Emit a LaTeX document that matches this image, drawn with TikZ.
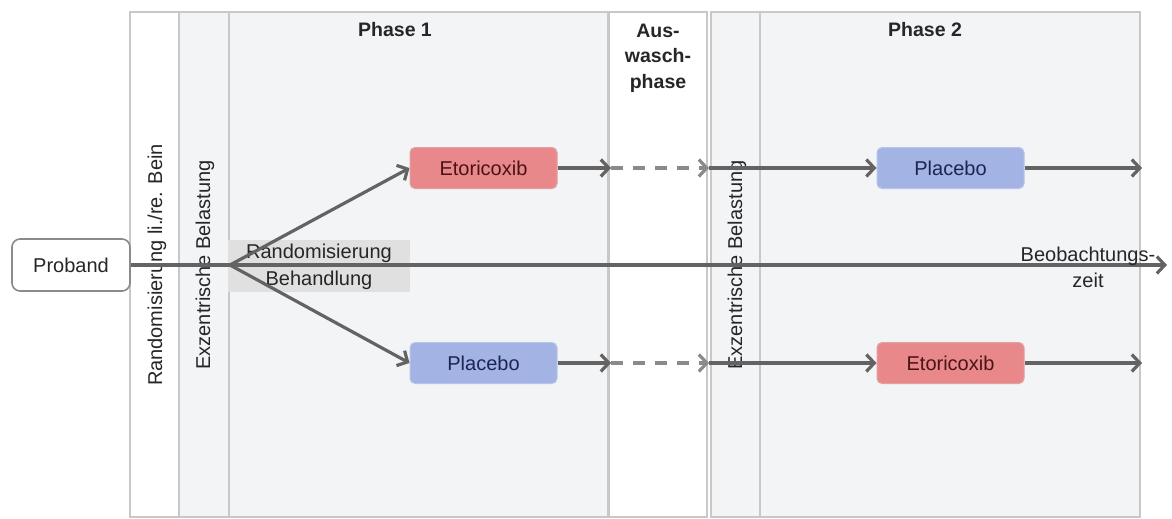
\documentclass[tikz,border=0pt]{standalone}
\usepackage{fontspec}
\setmainfont{Liberation Sans}
\usetikzlibrary{arrows.meta}
\definecolor{colgray}{HTML}{F3F4F6}
\definecolor{colline}{HTML}{C8C8C8}
\definecolor{arrgray}{HTML}{636363}
\definecolor{dashgray}{HTML}{8A8A8A}
\definecolor{txtcol}{HTML}{262626}
\definecolor{etofill}{HTML}{E8888A}
\definecolor{etoline}{HTML}{E3A0A0}
\definecolor{etotext}{HTML}{4A1414}
\definecolor{plafill}{HTML}{A3B3E3}
\definecolor{plaline}{HTML}{B8C4EC}
\definecolor{platext}{HTML}{1C2552}
\definecolor{randfill}{HTML}{E0E0E0}
\tikzset{
  txt/.style={font=\fontsize{20}{26}\selectfont, text=txtcol},
  column/.style={draw=colline, line width=1.5pt},
  treat/.style={txt, rounded corners=5pt, line width=1pt, minimum width=147pt, minimum height=41pt, inner sep=0pt},
  eto/.style={treat, fill=etofill, draw=etoline, text=etotext},
  pla/.style={treat, fill=plafill, draw=plaline, text=platext},
  conn/.style={draw=arrgray, line width=3.2pt, -{Straight Barb[length=8pt,width=17pt,line width=3.2pt]}},
  dconn/.style={conn, draw=dashgray, line width=4pt, dash pattern=on 12pt off 10pt},
  vlabel/.style={txt, rotate=90},
  phase/.style={txt, font=\fontsize{19.5}{25.5}\selectfont\bfseries, align=center}
}
\begin{document}
\begin{tikzpicture}[x=1pt,y=-1pt]
\useasboundingbox (0,0) rectangle (1172,519);
% columns
\path[column, fill=white]   (130,12) rectangle (179,517);
\path[column, fill=colgray] (179,12) rectangle (229,517);
\path[column, fill=colgray] (229,12) rectangle (608,517);
\path[column, fill=white]   (609,12) rectangle (707,517);
\path[column, fill=colgray] (711,12) rectangle (760,517);
\path[column, fill=colgray] (760,12) rectangle (1140,517);
% headings
\node[phase] (ph1) at (395,30) {Phase 1};
\node[phase] (ph2) at (925,30) {Phase 2};
\node[phase] (wash) at (658,58) {Aus-\\wasch-\\phase};
\node[vlabel] (rlr) at (157,265) {Randomisierung li./re. Bein};
\node[vlabel] (ex1) at (205,265) {Exzentrische Belastung};
\node[vlabel] (ex2) at (737,265) {Exzentrische Belastung};
% nodes
\node[txt, draw=arrgray!75, line width=1.6pt, rounded corners=8pt, fill=white, minimum width=118pt, minimum height=52pt, inner sep=0pt] (prob) at (71,265) {Proband};
\node[fill=randfill, minimum width=182pt, minimum height=52pt, inner sep=0pt] (rand) at (319,266) {};
\node[eto] (eto1) at (483.5,168) {Etoricoxib};
\node[pla] (pla1) at (483.5,363) {Placebo};
\node[pla] (pla2) at (950.5,168) {Placebo};
\node[eto] (eto2) at (950.5,363) {Etoricoxib};
% coordinates
\coordinate (fork) at (230,265);
\coordinate (tend) at (1167,265);
\coordinate (a1) at (611,168);
\coordinate (a2) at (709,168);
\coordinate (a3) at (1142,168);
\coordinate (b1) at (611,363);
\coordinate (b2) at (709,363);
\coordinate (b3) at (1142,363);
% main line
\draw[conn] (prob.east) -- (tend);
\node[txt, align=center, font=\fontsize{20}{27}\selectfont] (randtxt) at (319,267) {Randomisierung\\Behandlung};
\node[txt, align=center, inner sep=0pt] (obs) at (1088,267) {Beobachtungs-\\zeit};
% branches
\draw[conn] (fork) -- (eto1.west);
\draw[conn] (fork) -- (pla1.west);
\draw[conn] (eto1.east) -- (a1);
\draw[dconn] (a1) -- (a2);
\draw[conn] (a2) -- (pla2.west);
\draw[conn] (pla2.east) -- (a3);
\draw[conn] (pla1.east) -- (b1);
\draw[dconn] (b1) -- (b2);
\draw[conn] (b2) -- (eto2.west);
\draw[conn] (eto2.east) -- (b3);
\end{tikzpicture}
\end{document}
